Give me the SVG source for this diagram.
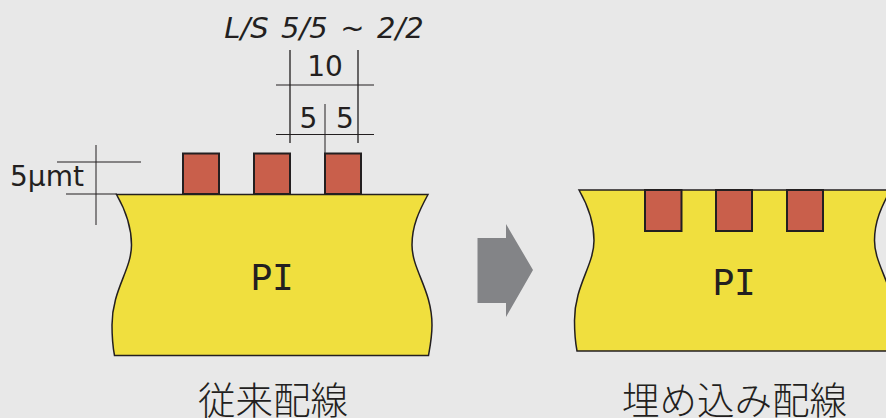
<svg xmlns="http://www.w3.org/2000/svg" width="886" height="418" viewBox="0 0 886 418">
<style>
.t{font-family:"DejaVu Sans","Noto Sans CJK JP",sans-serif;fill:#231f20;text-anchor:middle}
.j{font-family:"Noto Sans CJK JP",sans-serif;font-weight:300;fill:#231f20;text-anchor:middle;font-size:37.500px}
.m{font-family:"DejaVu Sans Mono",monospace;font-weight:400}
.pi{fill:#f0df3e;stroke:#231f20;stroke-width:1.500}
.cu{fill:#c95f4b;stroke:#231f20;stroke-width:2}
.d{stroke:#231f20;stroke-width:1;fill:none}
.d2{stroke:#231f20;stroke-width:1.300;fill:none}
</style>
<defs>
<path id="base" d="M116.500 194.500H428C419 211 412 226 412 245C412 270 432 290 432 325C432 337 430 347 428.500 355.500H114.500C112.500 345 112 335 112 325C112 290 131.500 270 131.500 245C131.500 226 126 211 116.500 194.500Z"/>
</defs>
<rect width="886" height="418" fill="#e8e8e8"/>
<g id="connectors">
<path class="d2" d="M290 50V143M358 50V143"/>
<path class="d" d="M276 85H374M276 134.500H374M325 104V153M96 145V225M57 162H141M66 194H117"/>
</g>
<g id="left-substrate">
<use href="#base" class="pi"/>
<text class="t" x="272" y="290" font-size="36">P<tspan class="m">I</tspan></text>
</g>
<g id="left-traces">
<rect class="cu" x="183" y="153.500" width="36" height="40.500"/>
<rect class="cu" x="254" y="153.500" width="36" height="40.500"/>
<rect class="cu" x="325" y="153.500" width="36" height="40.500"/>
</g>
<g id="right-substrate">
<use href="#base" class="pi" transform="translate(462.500 -4.500)"/>
<text class="t" x="734" y="295" font-size="36">P<tspan class="m">I</tspan></text>
</g>
<g id="right-traces">
<rect class="cu" x="645" y="190" width="36.500" height="41"/>
<rect class="cu" x="716" y="190" width="36" height="41"/>
<rect class="cu" x="787" y="190" width="36" height="41"/>
</g>
<g id="arrow"><path d="M477.500 238H506V224L533 270L506 317V303H477.500Z" fill="#838487"/></g>
<g id="labels">
<text class="t" x="324" y="38" font-size="29" font-style="italic" word-spacing="3.300">L/S 5/5 ~ 2/2</text>
<text class="t" x="325" y="76" font-size="28">10</text>
<text class="t" x="308.500" y="128" font-size="28">5</text>
<text class="t" x="345" y="128" font-size="28">5</text>
<text class="t" x="47" y="186" font-size="28">5μmt</text>
<text class="j" x="273" y="414">従来配線</text>
<text class="j" x="734.500" y="414">埋め込み配線</text>
</g>
</svg>
